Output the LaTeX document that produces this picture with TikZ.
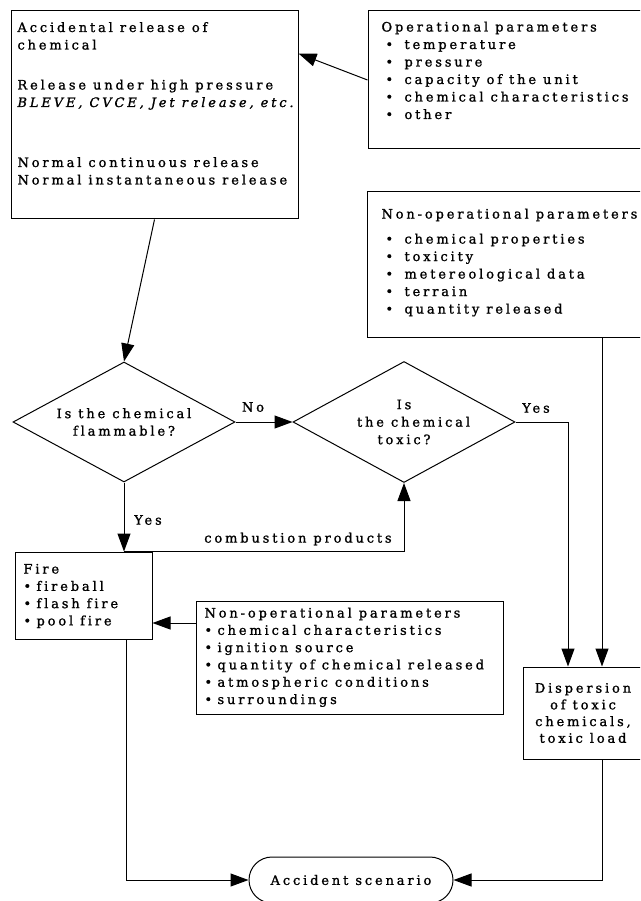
\documentclass[tikz,border=0pt]{standalone}
\usepackage{fontspec}
\setmainfont{DejaVu Serif}[LetterSpace=22,Ligatures=NoCommon,FakeBold=1.2]
\usetikzlibrary{arrows.meta,shapes.geometric,calc}
\newcommand\fstrut{\rule{0pt}{10pt}}
\newcommand\bul[1]{\makebox[23pt][l]{\hspace{4pt}\textbullet}#1}
\newcommand\bulc[1]{\makebox[13pt][l]{\textbullet}#1}
\begin{document}
\begin{tikzpicture}[x=1pt,y=-1pt,
  font=\fontsize{13}{17.5}\selectfont, line width=1pt,
  box/.style={draw, rectangle, inner sep=0pt},
  txt/.style={anchor=north west, inner sep=0pt, align=left},
  dia/.style={draw, diamond, aspect=1.85, inner sep=0pt, align=center},
  arr/.style={-{Triangle[length=18pt,width=13pt]}},
  lab/.style={inner sep=0pt}]
\useasboundingbox (0,0) rectangle (640,901);
\clip (0,0) rectangle (640,901);
% boxes
\node[box, minimum width=287pt, minimum height=208pt] (boxA) at (154.5,115) {};
\node[box, minimum width=274pt, minimum height=138pt] (op) at (505,80) {};
\node[box, minimum width=275pt, minimum height=145pt] (nonopA) at (504.5,264.5) {};
\node[dia, minimum width=222pt, minimum height=120pt] (ldia) at (124,422) {Is the chemical\\flammable?};
\node[dia, minimum width=222pt, minimum height=121pt] (rdia) at (404,422) {Is\\\hspace*{19pt}the chemical\\toxic?};
\node[box, minimum width=137pt, minimum height=87pt] (fire) at (83.5,595.5) {};
\node[box, minimum width=307pt, minimum height=113pt] (nonopB) at (349.5,657.5) {};
\node[box, minimum width=120pt, minimum height=92pt, align=center, font=\fontsize{13}{16.7}\selectfont] (disp) at (583,713) {Dispersion\\of toxic\\chemicals,\\toxic load};
\node[draw, rounded corners=23pt, minimum width=204pt, minimum height=46pt, inner sep=0pt] (acc) at (351,880) {Accident scenario};
% texts
\node[txt] (boxAt) at (17,21.5) {\fstrut Accidental release of\\chemical\\[22.5pt]Release under high pressure\\\textit{BLEVE, CVCE, Jet release, etc.}\\[42.5pt]Normal continuous release\\Normal instantaneous release};
\node[txt] (opt) at (381,21) {\fstrut Operational parameters\\\bul{temperature}\\\bul{pressure}\\\bul{capacity of the unit}\\\bul{chemical characteristics}\\\bul{other}};
\node[txt] (nonopAt) at (381,208) {\fstrut Non-operational parameters\\[7.5pt]\bul{chemical properties}\\\bul{toxicity}\\\bul{metereological data}\\\bul{terrain}\\\bul{quantity released}};
\node[txt, font=\fontsize{13}{17.3}\selectfont] (firet) at (23,563) {\fstrut Fire\\\bulc{fireball}\\\bulc{flash fire}\\\bulc{pool fire}};
\node[txt, font=\fontsize{13}{17.3}\selectfont] (nonopBt) at (204,607) {\fstrut Non-operational parameters\\\bulc{chemical characteristics}\\\bulc{ignition source}\\\bulc{quantity of chemical released}\\\bulc{atmospheric conditions}\\\bulc{surroundings}};
% labels
\node[lab] (no) at (253,407) {No};
\node[lab] (yesR) at (536,408) {Yes};
\node[lab] (yesD) at (148,520) {Yes};
\node[lab] (comb) at (298,539) {combustion products};
% helper coordinates
\coordinate (aIn) at ($(boxA.north east)+(0,43)$);
\coordinate (ybend) at (568,422);
\coordinate (nb) at (602,337);
\coordinate (nbw) at (196,623);
\coordinate (fdown) at (126,0);
% connectors
\draw[arr] (op.west) -- (aIn);
\draw[arr] (boxA.south) -- (ldia.north);
\draw[arr] (ldia.east) -- (rdia.west);
\draw[arr] (rdia.east) -- (ybend) -- (ybend |- disp.north);
\draw[arr] (nb) -- (nb |- disp.north);
\draw[arr] (ldia.south) -- (ldia.south |- fire.north);
\draw[arr] (ldia.south |- fire.north) -- (rdia.south |- fire.north) -- (rdia.south);
\draw[arr] (nbw) -- (nbw -| fire.east);
\draw[arr] (fdown |- fire.south) -- (fdown |- acc.west) -- (acc.west);
\draw[arr] (nb |- disp.south) -- (nb |- acc.east) -- (acc.east);
\end{tikzpicture}
\end{document}
